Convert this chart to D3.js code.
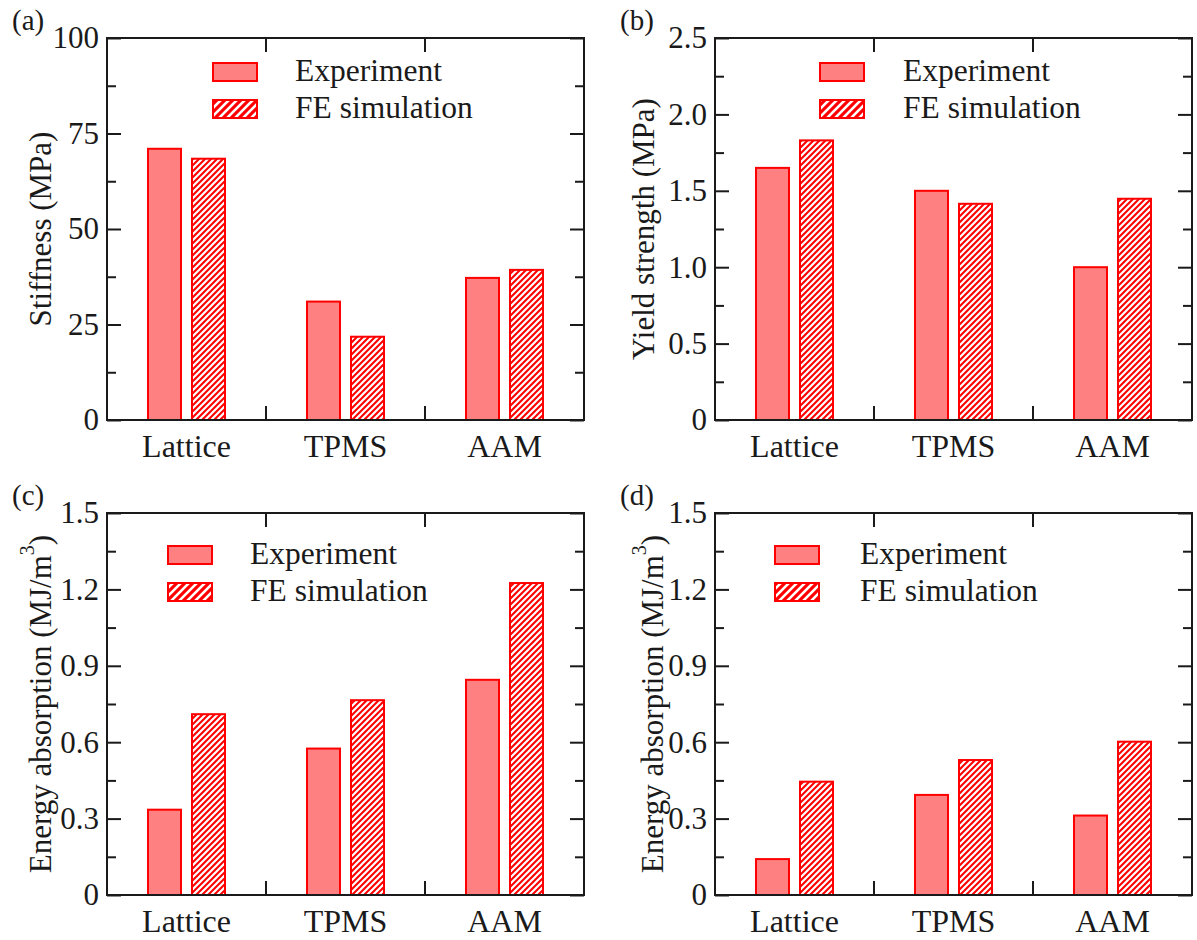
<!DOCTYPE html>
<html>
<head>
<meta charset="utf-8">
<script src="https://cdn.jsdelivr.net/npm/d3@7"></script>
<style>
  body { margin: 0; background: #fff; }
  svg { display: block; }
  svg text { font-family: 'Liberation Serif', 'Times New Roman', serif; }
</style>
</head>
<body>
<div id="chart"></div>
<script>
var categories = ["Lattice", "TPMS", "AAM"];

// (a) stiffness, MPa
var stiffnessExp = [71, 31, 37.2];
var stiffnessFE = [68.4, 21.8, 39.3];
// (b) yield strength, MPa
var yieldExp = [1.65, 1.5, 1.0];
var yieldFE = [1.83, 1.415, 1.448];
// (c) energy absorption, MJ/m3
var energyCExp = [0.335, 0.575, 0.845];
var energyCFE = [0.71, 0.765, 1.225];
// (d) energy absorption, MJ/m3
var energyDExp = [0.141, 0.393, 0.312];
var energyDFE = [0.445, 0.53, 0.602];

var ticksA = [0, 25, 50, 75, 100];
var ticksB = [0, 0.5, 1.0, 1.5, 2.0, 2.5];
var ticksCD = [0, 0.3, 0.6, 0.9, 1.2, 1.5];
var tickLabelsA = ["0", "25", "50", "75", "100"];
var tickLabelsB = ["0", "0.5", "1.0", "1.5", "2.0", "2.5"];
var tickLabelsCD = ["0", "0.3", "0.6", "0.9", "1.2", "1.5"];

var seriesNames = ["Experiment", "FE simulation"];

var W = 477, H = 382;
var INK = "#1a1a1a";
var RED = "#ff0000";
var PINK = "#ff8080";

var svg = d3.select("#chart").append("svg")
    .attr("width", 1197)
    .attr("height", 940);

var defs = svg.append("defs");
AddHatch("hatch", 6, 2.2);
AddHatch("hatchLegend", 8, 2.6);

var panels = [
    { tag: "(a)", left: 107, top: 38, exp: stiffnessExp, fe: stiffnessFE, ticks: ticksA, labels: tickLabelsA,
      ylabel: "Stiffness (MPa)", ylx: -67, legX: 106, legY: 25, textX: 188 },
    { tag: "(b)", left: 715, top: 38, exp: yieldExp, fe: yieldFE, ticks: ticksB, labels: tickLabelsB,
      ylabel: "Yield strength (MPa)", ylx: -72, legX: 105, legY: 25, textX: 188 },
    { tag: "(c)", left: 107, top: 513, exp: energyCExp, fe: energyCFE, ticks: ticksCD, labels: tickLabelsCD,
      ylabel: "Energy absorption (MJ/m", sup: "3", ylx: -67, legX: 61, legY: 33, textX: 143 },
    { tag: "(d)", left: 715, top: 513, exp: energyDExp, fe: energyDFE, ticks: ticksCD, labels: tickLabelsCD,
      ylabel: "Energy absorption (MJ/m", sup: "3", ylx: -63, legX: 60, legY: 33, textX: 145 }
];

panels.forEach(DrawPanel);

function AddHatch(id, step, lw) {
    var p = defs.append("pattern")
        .attr("id", id)
        .attr("patternUnits", "userSpaceOnUse")
        .attr("width", step)
        .attr("height", step);
    p.append("rect").attr("width", step).attr("height", step).attr("fill", RED);
    p.append("path")
        .attr("d", "M-1," + (step + 1) + " L" + (step + 1) + ",-1 M-1,1 L1,-1 M" + (step - 1) + "," + (step + 1) + " L" + (step + 1) + "," + (step - 1))
        .attr("stroke", "#fff")
        .attr("stroke-width", lw);
}

function DrawPanel(p) {
    var g = svg.append("g").attr("transform", "translate(" + p.left + "," + p.top + ")");
    var max = p.ticks[p.ticks.length - 1];

    var x = d3.scaleBand().domain(categories).range([0, W]);
    var y = d3.scaleLinear().domain([0, max]).range([H, 0]);

    var half = x.bandwidth() / 2;
    var barW = 33, off = 22;

    var minors = [];
    for (var i = 0; i < p.ticks.length - 1; i++) {
        minors.push((p.ticks[i] + p.ticks[i + 1]) / 2);
    }

    // bars
    g.selectAll(".exp").data(p.exp).enter().append("rect")
        .attr("class", "exp")
        .attr("x", function (d, i) { return x(categories[i]) + half - off - barW / 2; })
        .attr("y", function (d) { return y(d); })
        .attr("width", barW)
        .attr("height", function (d) { return H - y(d); })
        .attr("fill", PINK)
        .attr("stroke", RED)
        .attr("stroke-width", 2);

    g.selectAll(".fe").data(p.fe).enter().append("rect")
        .attr("class", "fe")
        .attr("x", function (d, i) { return x(categories[i]) + half + off - barW / 2; })
        .attr("y", function (d) { return y(d); })
        .attr("width", barW)
        .attr("height", function (d) { return H - y(d); })
        .attr("fill", "url(#hatch)")
        .attr("stroke", RED)
        .attr("stroke-width", 2);

    // y axis, left with labels, right mirrored
    var left = g.append("g")
        .call(d3.axisLeft(y).tickValues(p.ticks).tickSize(-14).tickPadding(8)
            .tickFormat(function (d, i) { return p.labels[i]; }));
    var leftMinor = g.append("g")
        .call(d3.axisLeft(y).tickValues(minors).tickSize(-9).tickFormat(""));
    var right = g.append("g").attr("transform", "translate(" + W + ",0)")
        .call(d3.axisRight(y).tickValues(p.ticks).tickSize(-14).tickFormat(""));
    var rightMinor = g.append("g").attr("transform", "translate(" + W + ",0)")
        .call(d3.axisRight(y).tickValues(minors).tickSize(-9).tickFormat(""));

    // category labels
    var bottom = g.append("g").attr("transform", "translate(0," + H + ")")
        .call(d3.axisBottom(x).tickSize(0).tickPadding(14));

    [left, leftMinor, right, rightMinor, bottom].forEach(function (a) {
        a.attr("font-family", null).attr("font-size", 31);
        a.select(".domain").remove();
        a.selectAll("line").attr("stroke", INK).attr("stroke-width", 2);
        a.selectAll("text").attr("fill", INK);
    });
    bottom.attr("font-size", 32);

    // x ticks at band edges, bottom and top
    var edges = categories.slice(1);
    g.selectAll(".xtb").data(edges).enter().append("line")
        .attr("x1", function (d) { return x(d); })
        .attr("x2", function (d) { return x(d); })
        .attr("y1", H)
        .attr("y2", H - 14)
        .attr("stroke", INK)
        .attr("stroke-width", 2);
    g.selectAll(".xtt").data(edges).enter().append("line")
        .attr("x1", function (d) { return x(d); })
        .attr("x2", function (d) { return x(d); })
        .attr("y1", 0)
        .attr("y2", 14)
        .attr("stroke", INK)
        .attr("stroke-width", 2);

    g.append("rect")
        .attr("width", W)
        .attr("height", H)
        .attr("fill", "none")
        .attr("stroke", INK)
        .attr("stroke-width", 2);

    // legend
    var fills = [PINK, "url(#hatchLegend)"];
    seriesNames.forEach(function (name, i) {
        var ry = p.legY + i * 37;
        g.append("rect")
            .attr("x", p.legX)
            .attr("y", ry)
            .attr("width", 44)
            .attr("height", 18)
            .attr("fill", fills[i])
            .attr("stroke", RED)
            .attr("stroke-width", 2);
        g.append("text")
            .attr("x", p.textX)
            .attr("y", ry + 18)
            .attr("font-size", 31.5)
            .attr("fill", INK)
            .text(name);
    });

    // y label
    var yl = g.append("text")
        .attr("transform", "translate(" + p.ylx + "," + (H / 2) + ") rotate(-90)")
        .attr("text-anchor", "middle")
        .attr("dominant-baseline", "central")
        .attr("font-size", 31)
        .attr("fill", INK);
    yl.append("tspan").text(p.ylabel);
    if (p.sup) {
        yl.append("tspan").attr("font-size", 20).attr("dy", -13).text(p.sup);
        yl.append("tspan").attr("dy", 13).text(")");
    }

    // panel tag
    svg.append("text")
        .attr("x", p.left - 95)
        .attr("y", p.top - 8)
        .attr("font-size", 29)
        .attr("fill", INK)
        .text(p.tag);
}
</script>
</body>
</html>
